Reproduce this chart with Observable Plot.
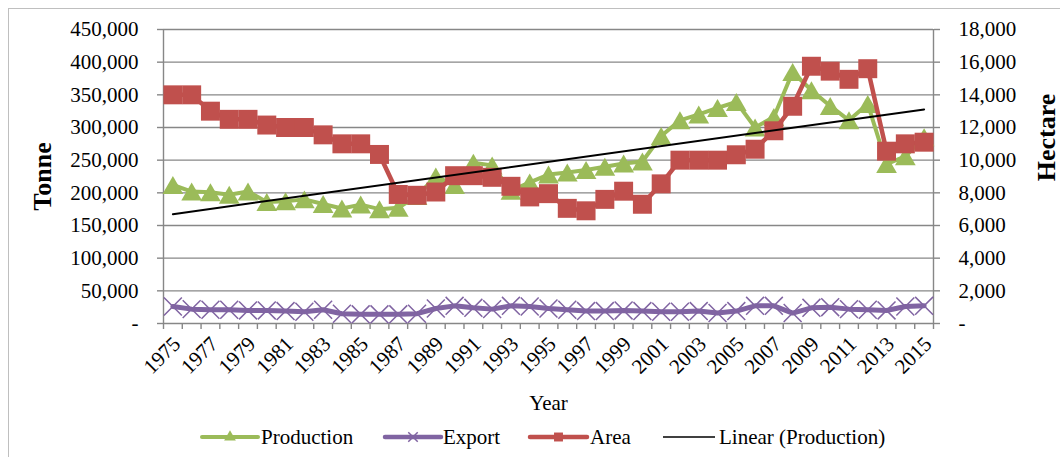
<!DOCTYPE html>
<html>
<head>
<meta charset="utf-8">
<script src="https://cdn.jsdelivr.net/npm/d3@7"></script>
<script src="https://cdn.jsdelivr.net/npm/@observablehq/plot@0.6"></script>
<style>
  html, body { margin: 0; padding: 0; background: #fff; }
  #wrap { position: relative; width: 1060px; height: 457px; overflow: hidden;
          font-family: "Liberation Serif", "Times New Roman", serif; }
  #frame { position: absolute; left: 8px; top: 8px; width: 1080px; height: 480px;
           border: 1px solid #bfbfbf; box-sizing: border-box; pointer-events: none; }
  #chart { position: absolute; left: 0; top: 0; }
  #legend { position: absolute; left: 0; top: 420px; }
</style>
</head>
<body>
<div id="wrap">
  <div id="frame"></div>
  <div id="chart"></div>
  <svg id="legend" width="1060" height="37"></svg>
</div>
<script>
// Annual series, 1975–2015
const years = d3.range(1975, 2016);

// Production (tonne)
const production = [
  212000, 202000, 201000, 197000, 202000, 186000, 187000, 190000, 183000, 176000,
  182000, 175000, 177000, 195000, 225000, 212000, 246000, 242000, 203000, 216000,
  228000, 231000, 235000, 240000, 245000, 248000, 287000, 311000, 320000, 330000,
  339000, 300000, 316000, 385000, 357000, 333000, 311000, 336000, 244000, 256000,
  285000
];

// Export (tonne)
const exportTonne = [
  26000, 22000, 21000, 21000, 20000, 20000, 19000, 18000, 21000, 15000,
  14000, 14000, 14000, 15000, 23000, 27000, 24000, 22000, 27000, 26000,
  23000, 21000, 19000, 19000, 20000, 19000, 18000, 18000, 19000, 16000,
  19000, 27000, 27000, 16000, 24000, 25000, 22000, 21000, 20000, 26000,
  27000
];

// Harvested area (hectare, right axis)
const areaHa = [
  14000, 14000, 13000, 12500, 12500, 12150, 12000, 12000, 11550, 11000,
  11000, 10350, 7900, 7850, 8050, 9050, 9050, 8950, 8400, 7750,
  7950, 7050, 6900, 7600, 8100, 7300, 8550, 10000, 10000, 10000,
  10330, 10670, 11800, 13300, 15750, 15450, 14950, 15600, 10550, 11000,
  11100
];

// Axis ticks
const tonneTicks = d3.range(0, 450001, 50000);
const yearLabels = years.filter(y => y % 2 === 1);
const yearBounds = d3.range(1974.5, 2016, 1);

// Right axis shares the left scale: 450,000 t ↔ 18,000 ha
const haToTonne = 450000 / 18000;

const rows = years.map((year, i) => ({
  year,
  production: production[i],
  export: exportTonne[i],
  area: areaHa[i] * haToTonne
}));

const GREEN = "#9bbb59", PURPLE = "#8064a2", RED = "#c0504d", GRID = "#878787";
const fmt = d3.format(",");
const fmtDash = v => (v === 0 ? "-" : fmt(v));

const chart = Plot.plot({
  width: 1060,
  height: 420,
  marginTop: 29,
  marginBottom: 97,
  marginLeft: 163,
  marginRight: 127,
  style: { fontFamily: "Liberation Serif, Times New Roman, serif", fontSize: "21px", color: "#000", background: "transparent", overflow: "visible" },
  x: { domain: [1974.5, 2015.5] },
  y: { domain: [0, 450000] },
  marks: [
    Plot.gridY(tonneTicks, { stroke: GRID, strokeOpacity: 1, strokeWidth: 1.4 }),
    Plot.ruleX([1974.5, 2015.5], { stroke: GRID, strokeWidth: 1.4 }),
    Plot.axisY(tonneTicks, {
      anchor: "left", tickSize: 6, tickPadding: 19, stroke: GRID, strokeWidth: 1.4,
      tickFormat: fmtDash, label: null, fill: "#000"
    }),
    Plot.axisY(tonneTicks, {
      anchor: "right", tickSize: 6, tickPadding: 19, stroke: GRID, strokeWidth: 1.4,
      tickFormat: v => fmtDash(v / haToTonne), label: null, fill: "#000"
    }),
    Plot.axisX(yearBounds, {
      anchor: "bottom", tickSize: 6, stroke: GRID, strokeWidth: 1.4, tickFormat: () => "", label: null
    }),
    Plot.axisX(yearLabels, {
      anchor: "bottom", tickSize: 0, tickPadding: 17, tickRotate: -45, dx: 4,
      tickFormat: d => String(d), label: null, fill: "#000"
    }),
    Plot.text(["Tonne"], {
      frameAnchor: "left", dx: -121, rotate: -90,
      textAnchor: "middle", lineAnchor: "middle",
      fontWeight: "bold", fontSize: 26, fill: "#000"
    }),
    Plot.text(["Hectare"], {
      frameAnchor: "right", dx: 113, dy: -39, rotate: -90,
      textAnchor: "middle", lineAnchor: "middle",
      fontWeight: "bold", fontSize: 26, fill: "#000"
    }),
    Plot.text(["Year"], { frameAnchor: "bottom", dy: 86, fontSize: 21, fill: "#000" }),

    // Production
    Plot.line(rows, { x: "year", y: "production", stroke: GREEN, strokeWidth: 4, strokeLinejoin: "round" }),
    Plot.dot(rows, { x: "year", y: "production", symbol: "triangle", r: 7.7, dy: 3, fill: GREEN, stroke: "none" }),

    // Export
    Plot.line(rows, { x: "year", y: "export", stroke: PURPLE, strokeWidth: 5, strokeLinejoin: "round" }),
    Plot.dot(rows, { x: "year", y: "export", symbol: "times", r: 8.2, stroke: PURPLE, strokeWidth: 1.5 }),

    // Area (right axis)
    Plot.line(rows, { x: "year", y: "area", stroke: RED, strokeWidth: 4.5, strokeLinejoin: "round" }),
    Plot.dot(rows, { x: "year", y: "area", symbol: "square", r: 10.7, fill: RED, stroke: "none" }),

    // Linear trend of production
    Plot.linearRegressionY(rows, { x: "year", y: "production", stroke: "#000", strokeWidth: 2, ci: 0 })
  ]
});
document.getElementById("chart").append(chart);

// Legend row below the chart
const legend = d3.select("#legend");
const ly = 17, ty = 24;
const items = [
  { label: "Production", color: GREEN, x0: 202, x1: 258, tx: 261, sym: d3.symbolTriangle, size: 60, w: 4 },
  { label: "Export", color: PURPLE, x0: 385, x1: 441, tx: 443, sym: d3.symbolTimes, size: 60, w: 4.5 },
  { label: "Area", color: RED, x0: 530, x1: 587, tx: 590, sym: d3.symbolSquare, size: 80, w: 4.5 },
  { label: "Linear (Production)", color: "#000", x0: 663, x1: 715, tx: 719, sym: null, w: 1.5 }
];
for (const it of items) {
  legend.append("line")
    .attr("x1", it.x0).attr("x2", it.x1).attr("y1", ly).attr("y2", ly)
    .attr("stroke", it.color).attr("stroke-width", it.w).attr("stroke-linecap", it.sym ? "round" : "butt");
  if (it.sym) {
    const p = legend.append("path")
      .attr("d", d3.symbol(it.sym, it.size)())
      .attr("transform", `translate(${(it.x0 + it.x1) / 2},${ly})`);
    if (it.sym === d3.symbolTimes) p.attr("fill", "none").attr("stroke", it.color).attr("stroke-width", 1.5);
    else p.attr("fill", it.color);
  }
  legend.append("text")
    .attr("x", it.tx).attr("y", ty)
    .attr("font-family", "Liberation Serif, Times New Roman, serif")
    .attr("font-size", 21).attr("fill", "#000")
    .text(it.label);
}
</script>
</body>
</html>
